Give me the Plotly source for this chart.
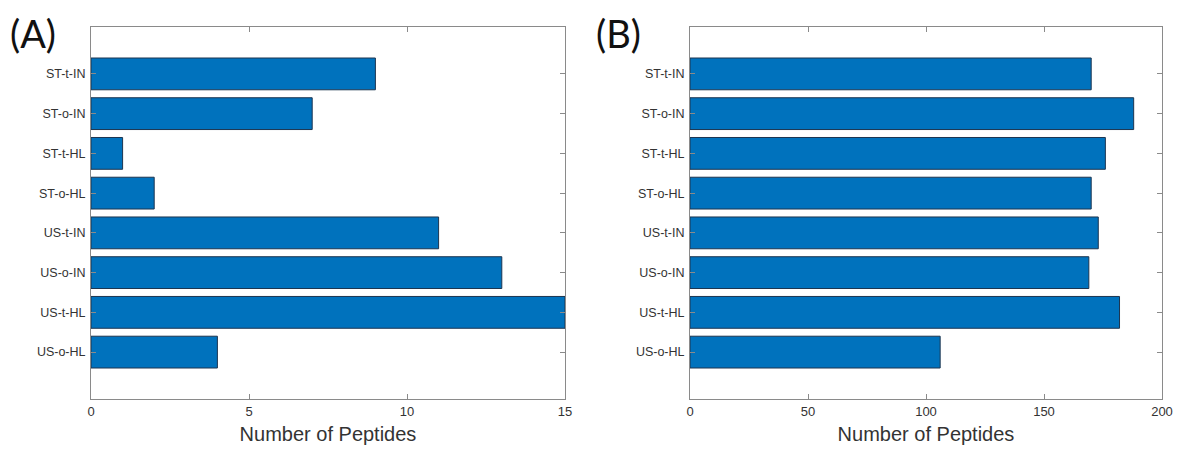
import plotly.graph_objects as go

categories = ["ST-t-IN", "ST-o-IN", "ST-t-HL", "ST-o-HL", "US-t-IN", "US-o-IN", "US-t-HL", "US-o-HL"]
values_a = [9, 7, 1, 2, 11, 13, 15, 4]
values_b = [170, 188, 176, 170, 173, 169, 182, 106]
xticks_a = [0, 5, 10, 15]
xticks_b = [0, 50, 100, 150, 200]
positions = list(range(1, len(categories) + 1))

BAR = "#0072BD"
AX = "#8a8a8a"
TXT = "#333333"
FONT = "Liberation Sans, Arial, sans-serif"

# page body has an 8px default margin; figure is sized to fit inside it
W, H, OFF = 1168, 437, 8


def px_x(p):
    return (p - OFF) / W


def px_y(p):
    return 1 - (p - OFF) / H


fig = go.Figure()
for vals, xa, ya in [(values_a, "x", "y"), (values_b, "x2", "y2")]:
    fig.add_trace(go.Bar(
        x=vals, y=positions, orientation="h", width=0.8,
        marker=dict(color=BAR, line=dict(color="#1c3550", width=1)),
        xaxis=xa, yaxis=ya, showlegend=False,
    ))

ydom = [px_y(399), px_y(27)]
common_x = dict(showline=True, linecolor=AX, linewidth=1, mirror="ticks", automargin=False,
                ticks="inside", ticklen=5, tickcolor=AX, showgrid=False, zeroline=False,
                tickfont=dict(family=FONT, size=13, color=TXT),
                title=dict(text="Number of Peptides", font=dict(family=FONT, size=20, color=TXT), standoff=10))
common_y = dict(showline=True, linecolor=AX, linewidth=1, mirror="ticks", automargin=False,
                ticks="inside", ticklen=5, tickcolor=AX, showgrid=False, zeroline=False,
                tickvals=positions, ticktext=categories, range=[9.18, -0.18],
                tickfont=dict(family=FONT, size=12.5, color=TXT), ticklabelstandoff=2)

fig.update_layout(
    width=W, height=H,
    margin=dict(l=0, r=0, t=0, b=0),
    paper_bgcolor="white", plot_bgcolor="white",
    xaxis=dict(domain=[px_x(91), px_x(565)], range=[0, 15], tickvals=xticks_a, anchor="y", **common_x),
    yaxis=dict(domain=ydom, anchor="x", **common_y),
    xaxis2=dict(domain=[px_x(690), px_x(1162)], range=[0, 200], tickvals=xticks_b, anchor="y2", **common_x),
    yaxis2=dict(domain=ydom, anchor="x2", **common_y),
    annotations=[
        dict(text="(A)", x=px_x(8), y=1, xref="paper", yref="paper", xanchor="left", yanchor="top",
             showarrow=False, font=dict(family="Lato, Open Sans, sans-serif", size=38, color="#111111")),
        dict(text="(B)", x=px_x(594), y=1, xref="paper", yref="paper", xanchor="left", yanchor="top",
             showarrow=False, font=dict(family="Lato, Open Sans, sans-serif", size=38, color="#111111")),
    ],
)

fig.write_html("out.html")
